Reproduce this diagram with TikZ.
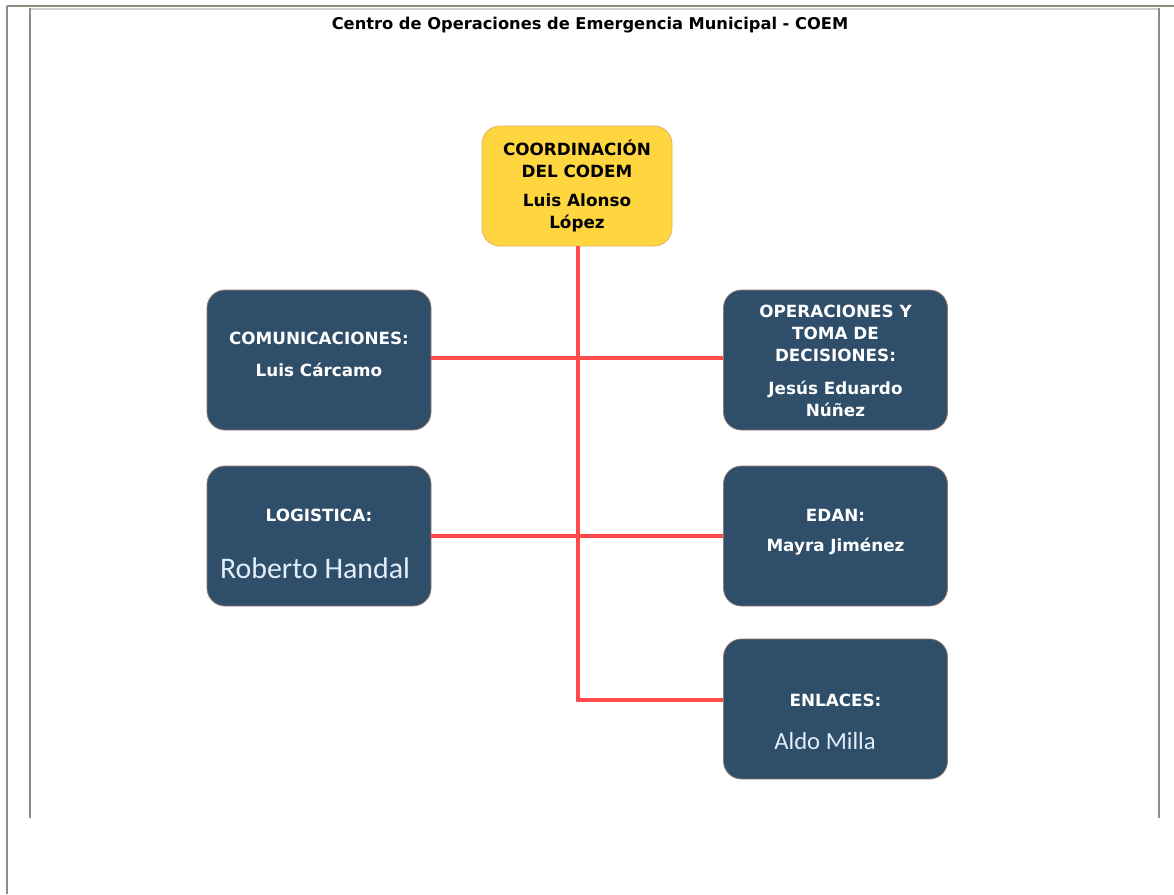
\documentclass[tikz,border=0pt]{standalone}
\usepackage{fontspec}
\setmainfont{DejaVu Sans}
\newfontfamily\calfont{Carlito}
\definecolor{frameg}{RGB}{142,139,128}
\definecolor{framel}{RGB}{208,206,200}
\definecolor{boxblue}{RGB}{47,78,106}
\definecolor{boxedge}{RGB}{150,120,115}
\definecolor{gold}{RGB}{255,214,64}
\definecolor{goldedge}{RGB}{225,180,90}
\definecolor{linkred}{RGB}{255,75,75}
\definecolor{lightname}{RGB}{225,238,250}
\tikzset{
  x=0.75pt, y=-0.75pt,
  orgbox/.style={draw=boxedge, line width=0.6pt, fill=boxblue, rounded corners=13.5pt,
    text=white, align=center, inner sep=0pt,
    font=\bfseries\fontsize{12.6pt}{16.5pt}\selectfont},
  bluebox/.style={orgbox, minimum width=168pt, minimum height=105pt},
  topbox/.style={orgbox, draw=goldedge, fill=gold, text=black,
    minimum width=142.5pt, minimum height=90pt},
  link/.style={draw=linkred, line width=2.6pt},
  frameline/.style={draw=frameg, line width=1.6pt},
  bigname/.style={font=\calfont\fontsize{#1}{#1}\selectfont, text=lightname}
}
\begin{document}
\begin{tikzpicture}
\useasboundingbox (0,0) rectangle (1174,894);
\fill[white] (0,0) rectangle (1174,894);
% frame
\draw[frameline] (7,6) -- (1174,6);
\draw[frameline] (7,6) -- (7,894);
\draw[framel, line width=1.2pt] (30,9) -- (1159,9);
\draw[frameline] (30,8) -- (30,818);
\draw[frameline] (1159,8) -- (1159,818);
% title
\node[font=\bfseries\fontsize{12.2pt}{14pt}\selectfont] (title) at (590,25) {Centro de Operaciones de Emergencia Municipal - COEM};
% boxes
\node[topbox] (coord) at (577,186) {COORDINACIÓN\\DEL CODEM\\[5pt]Luis Alonso\\López};
\node[bluebox] (com) at (319,360) {};
\node[bluebox] (log) at (319,536) {};
\node[bluebox] (ope) at (835.5,360) {};
\node[bluebox] (edan) at (835.5,536) {};
\node[bluebox] (enl) at (835.5,709) {};
% box texts
\node[orgbox, draw=none, fill=none] (comt) at (319,354.5) {COMUNICACIONES:\\[8pt]Luis Cárcamo};
\node[orgbox, draw=none, fill=none] (logt) at (319,515) {LOGISTICA:};
\node[bigname=22.4pt] (logn) at (315,568) {Roberto Handal};
\node[orgbox, draw=none, fill=none] (opet) at (835.5,361) {OPERACIONES Y\\TOMA DE\\DECISIONES:\\[8pt]Jesús Eduardo\\Núñez};
\node[orgbox, draw=none, fill=none] (edant) at (835.5,532) {EDAN:\\[6pt]Mayra Jiménez};
\node[orgbox, draw=none, fill=none] (enlt) at (835.5,700) {ENLACES:};
\node[bigname=18.5pt] (enln) at (825,741) {Aldo Milla};
% connectors
\coordinate (j1) at (578,358);
\coordinate (j2) at (578,536);
\coordinate (j3) at (578,700);
\draw[link] (coord.south -| j1) -- (j3) -- (enl.west |- j3);
\draw[link] (com.east |- j1) -- (ope.west |- j1);
\draw[link] (log.east |- j2) -- (edan.west |- j2);
\end{tikzpicture}
\end{document}
